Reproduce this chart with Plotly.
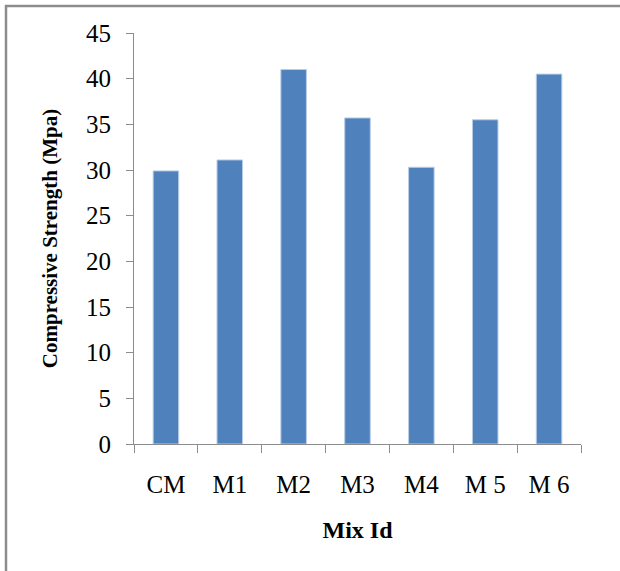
import plotly.graph_objects as go

mix_ids = ["CM", "M1", "M2", "M3", "M4", "M 5", "M 6"]
strength = [29.9, 31.1, 41.0, 35.7, 30.3, 35.5, 40.5]
y_ticks = [0, 5, 10, 15, 20, 25, 30, 35, 40, 45]

W, H = 620, 571
L, R, T, B = 134, 39, 33, 127
pw, ph = W - L - R, H - T - B

fig = go.Figure(go.Bar(
    x=mix_ids, y=strength,
    marker=dict(color="#4f81bd", line=dict(color="#b9cde5", width=1)),
    width=0.4,
))

font = "Liberation Serif, Times New Roman, serif"
fig.update_layout(
    width=W, height=H,
    margin=dict(l=L, r=R, t=T, b=B),
    paper_bgcolor="white", plot_bgcolor="white",
    showlegend=False,
    font=dict(family=font, size=24, color="black"),
    xaxis=dict(
        showline=True, linecolor="#8c8c8c", linewidth=1,
        ticks="outside", ticklen=8, tickcolor="#8c8c8c", tickson="boundaries",
        showgrid=False, ticklabelstandoff=18,
        title=dict(text="<b>Mix Id</b>", font=dict(size=24), standoff=24),
        tickfont=dict(size=25),
    ),
    yaxis=dict(
        range=[0, 45], tickvals=y_ticks,
        showline=True, linecolor="#8c8c8c", linewidth=1,
        ticks="outside", ticklen=7, tickcolor="#8c8c8c",
        showgrid=False, zeroline=False, ticklabelstandoff=10,
        title=dict(text="<b>Compressive Strength (Mpa)</b>", font=dict(size=21), standoff=22),
        tickfont=dict(size=25),
    ),
    shapes=[dict(
        type="rect", xref="paper", yref="paper",
        x0=(6 - L) / pw, x1=(W + 10 - L) / pw,
        y0=(H - B - (H + 10)) / ph, y1=(H - B - 6) / ph,
        line=dict(color="#8c8c8c", width=2.5), fillcolor="rgba(0,0,0,0)",
        layer="below",
    )],
)

fig.write_html("out.html")
